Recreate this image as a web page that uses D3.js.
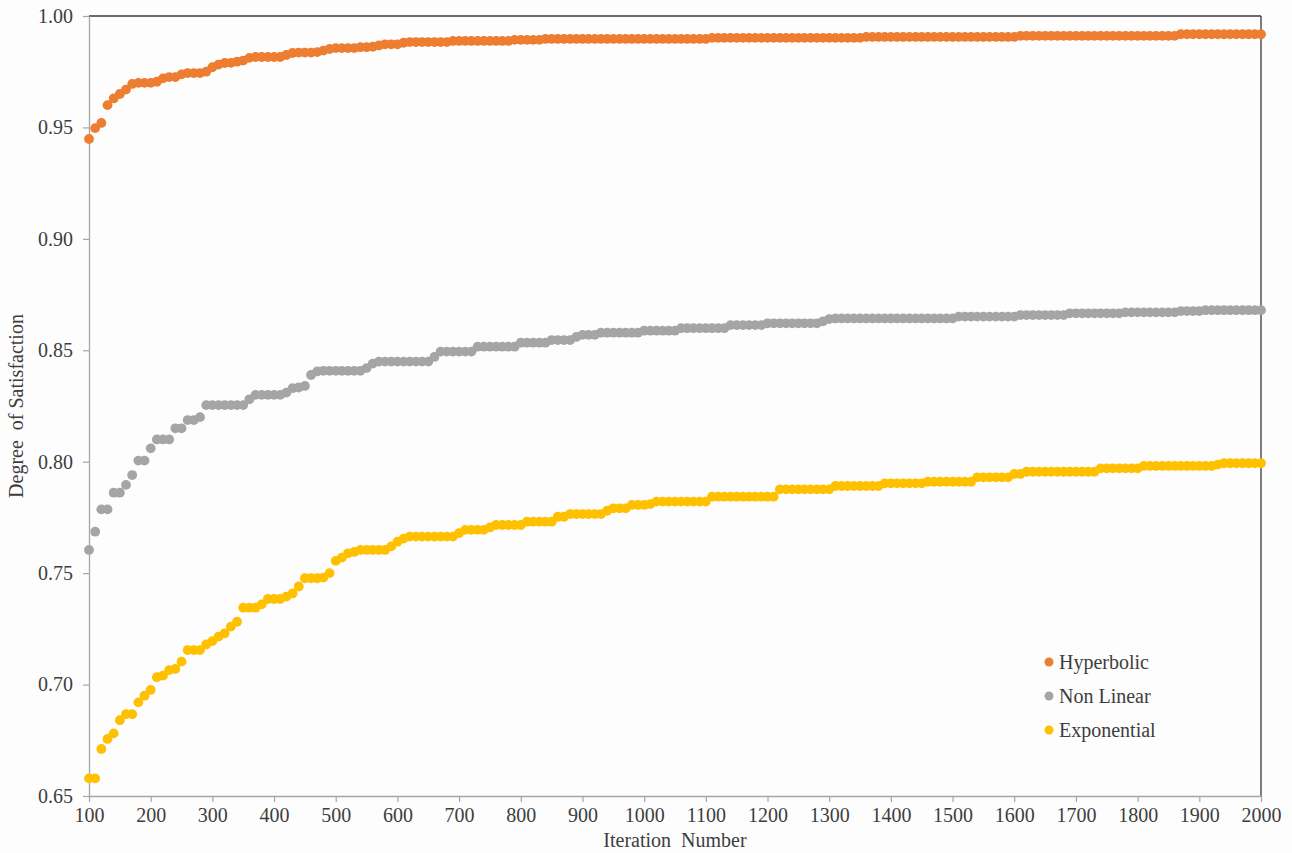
<!DOCTYPE html>
<html>
<head>
<meta charset="utf-8">
<script src="https://cdn.jsdelivr.net/npm/d3@7"></script>
<style>
  body { margin: 0; background: #fdfdfd; }
  text { font-family: "Liberation Serif", "Times New Roman", serif; fill: #3d3d3d; }
</style>
</head>
<body>
<svg id="chart"></svg>
<script>
// iteration numbers sampled every 10 iterations
const iterations = d3.range(100, 2001, 10);

const seriesNames = ["Hyperbolic", "Non Linear", "Exponential"];
const seriesColors = ["#ED7D31", "#A5A5A5", "#FFC000"];

const hyperbolic = [
    0.9448, 0.9497, 0.9520, 0.9600, 0.9630, 0.9650, 0.9670, 0.9695, 0.9700, 0.9700, // 100
    0.9700, 0.9705, 0.9720, 0.9726, 0.9726, 0.9738, 0.9744, 0.9744, 0.9744, 0.9750, // 200
    0.9770, 0.9782, 0.9789, 0.9790, 0.9795, 0.9800, 0.9812, 0.9816, 0.9816, 0.9816, // 300
    0.9816, 0.9816, 0.9825, 0.9834, 0.9836, 0.9836, 0.9836, 0.9838, 0.9845, 0.9852, // 400
    0.9856, 0.9856, 0.9856, 0.9856, 0.9860, 0.9860, 0.9862, 0.9868, 0.9873, 0.9873, // 500
    0.9873, 0.9880, 0.9883, 0.9883, 0.9883, 0.9883, 0.9883, 0.9883, 0.9883, 0.9888, // 600
    0.9888, 0.9888, 0.9888, 0.9888, 0.9888, 0.9888, 0.9888, 0.9888, 0.9888, 0.9893, // 700
    0.9893, 0.9893, 0.9893, 0.9893, 0.9897, 0.9897, 0.9897, 0.9897, 0.9897, 0.9897, // 800
    0.9897, 0.9897, 0.9897, 0.9897, 0.9897, 0.9897, 0.9897, 0.9897, 0.9897, 0.9897, // 900
    0.9897, 0.9897, 0.9897, 0.9897, 0.9897, 0.9897, 0.9897, 0.9897, 0.9897, 0.9897, // 1000
    0.9897, 0.9902, 0.9902, 0.9902, 0.9902, 0.9902, 0.9902, 0.9902, 0.9902, 0.9902, // 1100
    0.9902, 0.9902, 0.9902, 0.9902, 0.9902, 0.9902, 0.9902, 0.9902, 0.9902, 0.9902, // 1200
    0.9902, 0.9902, 0.9902, 0.9902, 0.9902, 0.9902, 0.9906, 0.9906, 0.9906, 0.9906, // 1300
    0.9906, 0.9906, 0.9906, 0.9906, 0.9906, 0.9906, 0.9906, 0.9906, 0.9906, 0.9906, // 1400
    0.9906, 0.9906, 0.9906, 0.9906, 0.9906, 0.9906, 0.9906, 0.9906, 0.9906, 0.9906, // 1500
    0.9906, 0.9911, 0.9911, 0.9911, 0.9911, 0.9911, 0.9911, 0.9911, 0.9911, 0.9911, // 1600
    0.9911, 0.9911, 0.9911, 0.9911, 0.9911, 0.9911, 0.9911, 0.9911, 0.9911, 0.9911, // 1700
    0.9911, 0.9911, 0.9911, 0.9911, 0.9911, 0.9911, 0.9911, 0.9918, 0.9918, 0.9918, // 1800
    0.9918, 0.9918, 0.9918, 0.9918, 0.9918, 0.9918, 0.9918, 0.9918, 0.9918, 0.9918, // 1900
    0.9918                                                                          // 2000
];

const nonLinear = [
    0.7604, 0.7686, 0.7786, 0.7786, 0.7861, 0.7861, 0.7896, 0.7940, 0.8005, 0.8005, // 100
    0.8060, 0.8100, 0.8100, 0.8100, 0.8150, 0.8150, 0.8187, 0.8187, 0.8200, 0.8254, // 200
    0.8254, 0.8254, 0.8254, 0.8254, 0.8254, 0.8254, 0.8280, 0.8300, 0.8300, 0.8300, // 300
    0.8300, 0.8300, 0.8310, 0.8330, 0.8333, 0.8340, 0.8389, 0.8405, 0.8408, 0.8408, // 400
    0.8408, 0.8408, 0.8408, 0.8408, 0.8408, 0.8420, 0.8440, 0.8449, 0.8449, 0.8449, // 500
    0.8449, 0.8449, 0.8449, 0.8449, 0.8449, 0.8449, 0.8470, 0.8494, 0.8494, 0.8494, // 600
    0.8494, 0.8494, 0.8494, 0.8516, 0.8516, 0.8516, 0.8516, 0.8516, 0.8516, 0.8516, // 700
    0.8534, 0.8534, 0.8534, 0.8534, 0.8534, 0.8546, 0.8546, 0.8546, 0.8546, 0.8560, // 800
    0.8569, 0.8569, 0.8569, 0.8579, 0.8579, 0.8579, 0.8579, 0.8579, 0.8579, 0.8579, // 900
    0.8588, 0.8588, 0.8588, 0.8588, 0.8588, 0.8588, 0.8599, 0.8599, 0.8599, 0.8599, // 1000
    0.8599, 0.8599, 0.8599, 0.8599, 0.8613, 0.8613, 0.8613, 0.8613, 0.8613, 0.8613, // 1100
    0.8621, 0.8621, 0.8621, 0.8621, 0.8621, 0.8621, 0.8621, 0.8621, 0.8621, 0.8630, // 1200
    0.8640, 0.8643, 0.8643, 0.8643, 0.8643, 0.8643, 0.8643, 0.8643, 0.8643, 0.8643, // 1300
    0.8643, 0.8643, 0.8643, 0.8643, 0.8643, 0.8643, 0.8643, 0.8643, 0.8643, 0.8643, // 1400
    0.8643, 0.8651, 0.8651, 0.8651, 0.8651, 0.8651, 0.8651, 0.8651, 0.8651, 0.8651, // 1500
    0.8651, 0.8658, 0.8658, 0.8658, 0.8658, 0.8658, 0.8658, 0.8658, 0.8658, 0.8666, // 1600
    0.8666, 0.8666, 0.8666, 0.8666, 0.8666, 0.8666, 0.8666, 0.8666, 0.8670, 0.8670, // 1700
    0.8670, 0.8670, 0.8670, 0.8670, 0.8670, 0.8670, 0.8670, 0.8676, 0.8676, 0.8676, // 1800
    0.8676, 0.8680, 0.8680, 0.8680, 0.8680, 0.8680, 0.8680, 0.8680, 0.8680, 0.8680, // 1900
    0.8680                                                                          // 2000
];

const exponential = [
    0.6579, 0.6579, 0.6711, 0.6756, 0.6781, 0.6840, 0.6867, 0.6867, 0.6920, 0.6950, // 100
    0.6976, 0.7033, 0.7040, 0.7065, 0.7070, 0.7103, 0.7155, 0.7155, 0.7155, 0.7180, // 200
    0.7195, 0.7215, 0.7230, 0.7260, 0.7282, 0.7345, 0.7345, 0.7345, 0.7360, 0.7384, // 300
    0.7384, 0.7384, 0.7395, 0.7409, 0.7440, 0.7477, 0.7477, 0.7477, 0.7480, 0.7500, // 400
    0.7555, 0.7570, 0.7589, 0.7595, 0.7604, 0.7604, 0.7604, 0.7604, 0.7604, 0.7620, // 500
    0.7641, 0.7655, 0.7664, 0.7664, 0.7664, 0.7664, 0.7664, 0.7664, 0.7664, 0.7664, // 600
    0.7680, 0.7694, 0.7694, 0.7694, 0.7694, 0.7705, 0.7716, 0.7716, 0.7716, 0.7716, // 700
    0.7716, 0.7731, 0.7731, 0.7731, 0.7731, 0.7731, 0.7753, 0.7753, 0.7765, 0.7765, // 800
    0.7765, 0.7765, 0.7765, 0.7765, 0.7780, 0.7791, 0.7791, 0.7791, 0.7806, 0.7806, // 900
    0.7806, 0.7810, 0.7821, 0.7821, 0.7821, 0.7821, 0.7821, 0.7821, 0.7821, 0.7821, // 1000
    0.7821, 0.7843, 0.7843, 0.7843, 0.7843, 0.7843, 0.7843, 0.7843, 0.7843, 0.7843, // 1100
    0.7843, 0.7843, 0.7876, 0.7876, 0.7876, 0.7876, 0.7876, 0.7876, 0.7876, 0.7876, // 1200
    0.7876, 0.7891, 0.7891, 0.7891, 0.7891, 0.7891, 0.7891, 0.7891, 0.7891, 0.7903, // 1300
    0.7903, 0.7903, 0.7903, 0.7903, 0.7903, 0.7903, 0.7910, 0.7910, 0.7910, 0.7910, // 1400
    0.7910, 0.7910, 0.7910, 0.7910, 0.7930, 0.7930, 0.7930, 0.7930, 0.7930, 0.7930, // 1500
    0.7945, 0.7945, 0.7955, 0.7955, 0.7955, 0.7955, 0.7955, 0.7955, 0.7955, 0.7955, // 1600
    0.7955, 0.7955, 0.7955, 0.7955, 0.7970, 0.7970, 0.7970, 0.7970, 0.7970, 0.7970, // 1700
    0.7970, 0.7981, 0.7981, 0.7981, 0.7981, 0.7981, 0.7981, 0.7981, 0.7981, 0.7981, // 1800
    0.7981, 0.7981, 0.7981, 0.7987, 0.7993, 0.7993, 0.7993, 0.7993, 0.7993, 0.7993, // 1900
    0.7993                                                                          // 2000
];

const xTicks = d3.range(100, 2001, 100);
const yTicks = [0.65, 0.70, 0.75, 0.80, 0.85, 0.90, 0.95, 1.00];

const width = 1292, height = 853;
const margin = {top: 16, right: 31, bottom: 57, left: 89};
const plot_width = width - margin.left - margin.right,
    plot_height = height - margin.top - margin.bottom;

const svg = d3.select("#chart")
    .attr("width", width)
    .attr("height", height);

const g = svg.append("g")
    .attr("transform", "translate(" + margin.left + "," + margin.top + ")");

const xScale = d3.scaleLinear().domain([100, 2000]).range([0, plot_width]);
const yScale = d3.scaleLinear().domain([0.65, 1.00]).range([plot_height, 0]);

// top and right frame lines (dark)
g.append("line")
    .attr("x1", 0).attr("x2", plot_width).attr("y1", 0).attr("y2", 0)
    .attr("stroke", "#3a3a3a").attr("stroke-width", 1.3);
g.append("line")
    .attr("x1", plot_width).attr("x2", plot_width).attr("y1", 0).attr("y2", plot_height)
    .attr("stroke", "#3a3a3a").attr("stroke-width", 1.3);

// x axis
const xAxis = g.append("g")
    .attr("class", "x-axis")
    .attr("transform", "translate(0," + plot_height + ")")
    .call(d3.axisBottom(xScale).tickValues(xTicks).tickSize(6).tickSizeOuter(0).tickFormat(d3.format("d")));

// y axis
const yAxis = g.append("g")
    .attr("class", "y-axis")
    .call(d3.axisLeft(yScale).tickValues(yTicks).tickSize(6).tickSizeOuter(0).tickFormat(d3.format(".2f")));

[xAxis, yAxis].forEach(function (ax) {
    ax.select(".domain").attr("stroke", "#a6a6a6").attr("stroke-width", 1.3);
    ax.selectAll(".tick line").attr("stroke", "#a6a6a6").attr("stroke-width", 1.2);
    ax.selectAll(".tick text")
        .style("font-family", "'Liberation Serif', serif")
        .style("font-size", "20px")
        .attr("fill", "#3d3d3d");
});
xAxis.selectAll(".tick text").attr("y", 12);
yAxis.selectAll(".tick text").attr("x", -16);

// axis titles
svg.append("text")
    .attr("x", margin.left + plot_width / 2)
    .attr("y", 847)
    .attr("text-anchor", "middle")
    .style("font-size", "20px")
    .style("white-space", "pre")
    .text("Iteration  Number");

svg.append("text")
    .attr("transform", "translate(23," + (margin.top + plot_height / 2) + ") rotate(-90)")
    .attr("text-anchor", "middle")
    .style("font-size", "20px")
    .style("white-space", "pre")
    .text("Degree  of Satisfaction");

// scatter dots
const allSeries = [hyperbolic, nonLinear, exponential];

allSeries.forEach(function (values, k) {
    g.append("g")
        .attr("fill", seriesColors[k])
        .selectAll("circle")
        .data(values)
        .enter()
        .append("circle")
        .attr("cx", function (d, i) { return xScale(iterations[i]); })
        .attr("cy", function (d) { return yScale(d); })
        .attr("r", 4.9);
});

// legend
const legend = svg.append("g")
    .attr("transform", "translate(1049,662)");

const legendItem = legend.selectAll("g")
    .data(seriesNames)
    .enter()
    .append("g")
    .attr("transform", function (d, i) { return "translate(0," + (i * 34) + ")"; });

legendItem.append("circle")
    .attr("r", 4.5)
    .attr("fill", function (d, i) { return seriesColors[i]; });

legendItem.append("text")
    .attr("x", 10)
    .attr("y", 7)
    .style("font-size", "20px")
    .text(function (d) { return d; });
</script>
</body>
</html>
